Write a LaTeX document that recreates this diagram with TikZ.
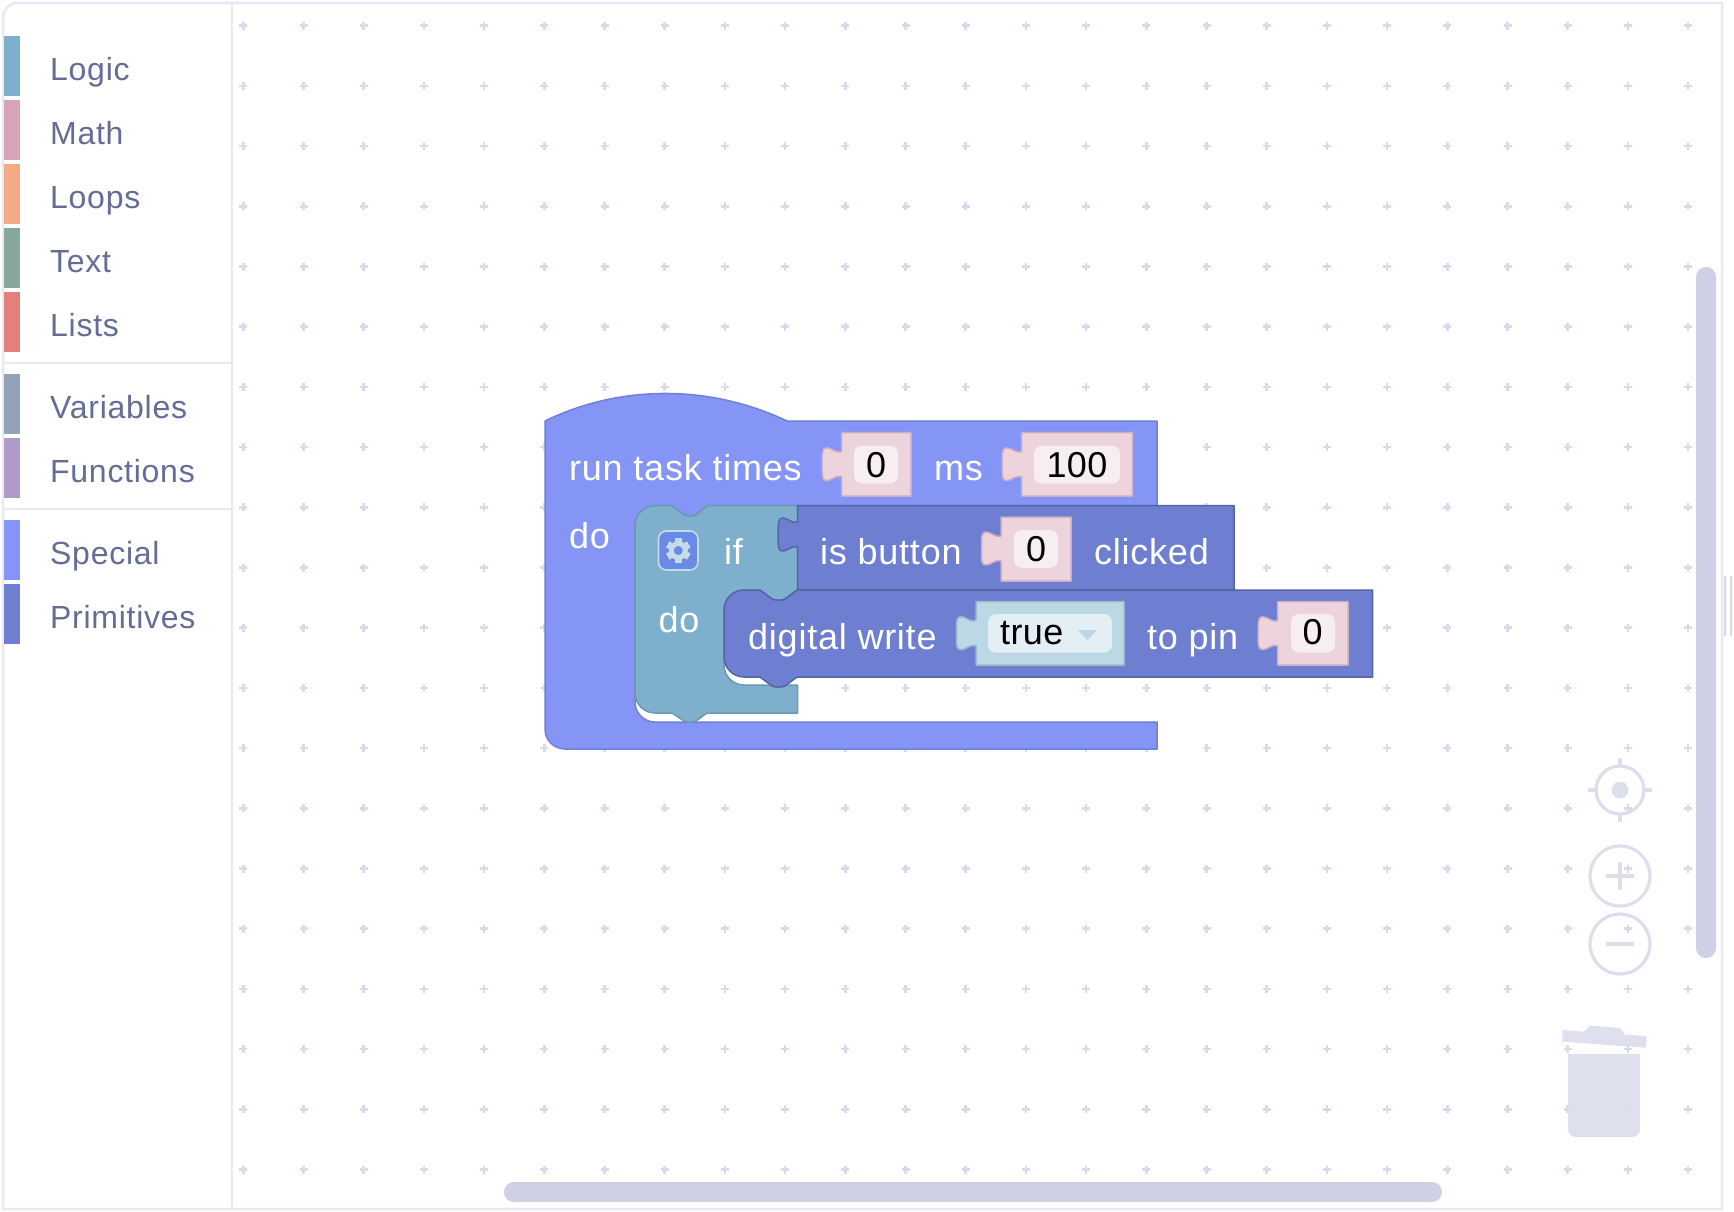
\documentclass[tikz,border=0pt]{standalone}
\usepackage{fontspec}
\setmainfont{Liberation Sans}
\newfontfamily\blockfont[LetterSpace=2.1]{Liberation Sans}
\newfontfamily\valuefont[LetterSpace=1]{Liberation Sans}
\newfontfamily\sidefont[LetterSpace=2.3]{Liberation Sans}
\definecolor{frameC}{HTML}{E9E9F3}
\definecolor{dotC}{HTML}{D9DAEA}
\definecolor{scrollC}{HTML}{CFD0E3}
\definecolor{ctrlC}{HTML}{DDDEEC}
\definecolor{sideText}{HTML}{636D95}
\definecolor{specialC}{HTML}{8595F6}
\definecolor{specialS}{HTML}{7080D8}
\definecolor{primC}{HTML}{6E7ED0}
\definecolor{primS}{HTML}{5464A8}
\definecolor{logicC}{HTML}{7EB0CE}
\definecolor{logicS}{HTML}{6A9AAF}
\definecolor{pinkC}{HTML}{EDD3DB}
\definecolor{pinkS}{HTML}{C9AEC4}
\definecolor{pinkF}{HTML}{F6EEF2}
\definecolor{blueC}{HTML}{BBD8E4}
\definecolor{blueS}{HTML}{9DB8CC}
\definecolor{blueF}{HTML}{E3EFF4}
\definecolor{gearBox}{HTML}{6A8AE8}
\definecolor{gearC}{HTML}{C5DCE8}
\definecolor{mathC}{HTML}{D9A3B8}
\definecolor{loopC}{HTML}{F2AB85}
\definecolor{textC}{HTML}{86A898}
\definecolor{listC}{HTML}{E57F7C}
\definecolor{varC}{HTML}{92A3B8}
\definecolor{funcC}{HTML}{AF9AC9}
\tikzset{
  x=1pt,y=-1pt,
  blocklabel/.style={anchor=base west,inner sep=0pt,text=white,font=\fontsize{36}{40}\selectfont\blockfont},
  valuetext/.style={anchor=base,inner sep=0pt,text=black,font=\fontsize{36}{40}\selectfont\valuefont},
  sidelabel/.style={anchor=base west,inner sep=0pt,text=sideText,font=\fontsize{32}{36}\selectfont\sidefont},
  blockline/.style={line width=1.5pt,line join=round},
  gridplus/.style={draw=dotC,line width=2.6pt},
  ctrlring/.style={draw=ctrlC,line width=3.2pt,fill=none},
  field/.style={rounded corners=8pt},
}
% tab outline drawn in the local frame of a block whose left side is x=0, tab starting at y=0
\newcommand{\tabpath}{-- (0,4) .. controls (-6,6) and (-10,0) .. (-15,0) .. controls (-20,0) and (-19.5,6) .. (-19.5,17) .. controls (-19.5,28) and (-20,33) .. (-15,33) .. controls (-10,33) and (-6,27) .. (0,29)}
% #1 left, #2 right, #3 top, #4 bottom, #5 fill, #6 stroke
\newcommand{\valblock}[6]{%
  \begin{scope}[shift={(#1,#3+15)}]
    \pgfmathsetmacro{\wd}{#2-#1}\pgfmathsetmacro{\hg}{#4-#3-15}
    \draw[blockline,fill=#5,draw=#6] (0,-15) \tabpath -- (0,\hg) -- (\wd,\hg) -- (\wd,-15) -- cycle;
  \end{scope}}
\begin{document}
\begin{tikzpicture}
\useasboundingbox (0,0) rectangle (1734,1212);
\fill[white] (0,0) rectangle (1734,1212);
% dotted grid
\foreach \i in {0,...,24}{\foreach \j in {0,...,19}{
  \pgfmathsetmacro{\px}{243.3+60.2*\i}\pgfmathsetmacro{\py}{25.7+60.2*\j}
  \draw[gridplus] (\px-4,\py) -- (\px+4,\py) (\px,\py-4) -- (\px,\py+4);
}}
% frame
\draw[frameC,line width=2.5pt] (1722,3) -- (18,3) arc[start angle=270,end angle=180,radius=15] -- (3,1209) -- (1722,1209) -- cycle;
\draw[frameC,line width=2pt] (232,3) -- (232,1209);
\draw[frameC,line width=2pt] (4,363) -- (232,363) (4,509) -- (232,509);
% toolbox colour bars
\fill[logicC] (4,36) rectangle (20,96);
\fill[mathC] (4,100) rectangle (20,160);
\fill[loopC] (4,164) rectangle (20,224);
\fill[textC] (4,228) rectangle (20,288);
\fill[listC] (4,292) rectangle (20,352);
\fill[varC] (4,374) rectangle (20,434);
\fill[funcC] (4,438) rectangle (20,498);
\fill[specialC] (4,520) rectangle (20,580);
\fill[primC] (4,584) rectangle (20,644);
\node[sidelabel] (tbLogic) at (50,81) {Logic};
\node[sidelabel] (tbMath) at (50,144) {Math};
\node[sidelabel] (tbLoops) at (50,208) {Loops};
\node[sidelabel] (tbText) at (50,272) {Text};
\node[sidelabel] (tbLists) at (50,336) {Lists};
\node[sidelabel] (tbVars) at (50,418) {Variables};
\node[sidelabel] (tbFuncs) at (50,482) {Functions};
\node[sidelabel] (tbSpecial) at (50,564) {Special};
\node[sidelabel] (tbPrims) at (50,628) {Primitives};
% scrollbars and grip
\fill[scrollC,rounded corners=9.9pt] (1696,267) rectangle (1716,958);
\fill[scrollC,rounded corners=9.9pt] (504,1182) rectangle (1442,1202);
\fill[black!14] (1724,576) rectangle (1726,636) (1730,576) rectangle (1732,636);
% workspace controls
\draw[ctrlring] (1620,790) circle[radius=24];
\fill[ctrlC] (1620,790) circle[radius=8.3];
\draw[ctrlC,line width=3.2pt] (1620,758) -- (1620,766) (1620,814) -- (1620,822) (1588,790) -- (1596,790) (1644,790) -- (1652,790);
\draw[ctrlring] (1620,876) circle[radius=30];
\draw[ctrlC,line width=3.2pt] (1606,876) -- (1634,876) (1620,862) -- (1620,890);
\draw[ctrlring] (1620,944) circle[radius=30];
\draw[ctrlC,line width=3.2pt] (1606,944) -- (1634,944);
\fill[ctrlC,opacity=.92] (1562.3,1030) -- (1584,1031.7) -- (1590,1025.7) -- (1620,1028) -- (1625,1034.7) -- (1646.6,1036) -- (1646,1047.7) -- (1562.3,1041.7) -- cycle;
\fill[ctrlC,opacity=.92] (1568,1054) -- (1640,1054) -- (1640,1129) arc[start angle=0,end angle=90,radius=8] -- (1576,1137) arc[start angle=90,end angle=180,radius=8] -- cycle;
% run task block
\draw[blockline,fill=specialC,draw=specialS] (545,421) .. controls (620,384.3) and (710,384.3) .. (787,421) -- (1157,421) -- (1157,505.7) -- (707,505.7) -- (696,515) .. controls (693,516.5) and (687,516.5) .. (684,515) -- (672,505.7) -- (655,505.7) arc[start angle=270,end angle=180,radius=20] -- (635,702) arc[start angle=180,end angle=90,radius=20] -- (1157,722) -- (1157,749) -- (565,749) arc[start angle=90,end angle=180,radius=20] -- cycle;
% if block
\draw[blockline,fill=logicC,draw=logicS] (655,505.7) -- (672,505.7) -- (684,515) .. controls (687,516.5) and (693,516.5) .. (696,515) -- (707,505.7) -- (797.7,505.7) -- (797.7,590) -- (797,590) -- (785,599) .. controls (782,600.5) and (775,600.5) .. (772,599) -- (760,590) -- (744,590) arc[start angle=270,end angle=180,radius=20] -- (724,665) arc[start angle=180,end angle=90,radius=20] -- (797.7,685) -- (797.7,713) -- (707,713) -- (696,721) .. controls (693,722.5) and (687,722.5) .. (684,721) -- (672,713) -- (655,713) arc[start angle=90,end angle=180,radius=20] -- (635,525.7) arc[start angle=180,end angle=270,radius=20] -- cycle;
% is button clicked block
\begin{scope}[shift={(797.7,518)}]
\draw[blockline,fill=primC,draw=primS] (0,-12.3) \tabpath -- (0,72) -- (436.3,72) -- (436.3,-12.3) -- cycle;
\end{scope}
% digital write block
\draw[blockline,fill=primC,draw=primS] (744,590) -- (760,590) -- (772,599) .. controls (775,600.5) and (782,600.5) .. (785,599) -- (797,590) -- (1372.7,590) -- (1372.7,677) -- (797,677) -- (785,686) .. controls (782,687.5) and (775,687.5) .. (772,686) -- (760,677) -- (744,677) arc[start angle=90,end angle=180,radius=20] -- (724,610) arc[start angle=180,end angle=270,radius=20] -- cycle;
% value blocks
\valblock{841.7}{911}{432.7}{496}{pinkC}{pinkS}
\fill[pinkF,field] (854,445.7) rectangle (898,483.7);
\valblock{1021.7}{1132.7}{432.7}{496}{pinkC}{pinkS}
\fill[pinkF,field] (1034,445.7) rectangle (1120,483.7);
\valblock{1001}{1071}{517}{581}{pinkC}{pinkS}
\fill[pinkF,field] (1014,530) rectangle (1058,568);
\valblock{976}{1124}{601.7}{665}{blueC}{blueS}
\fill[blueF,field] (988,614) rectangle (1112,652.7);
\fill[blueC] (1077.7,630) -- (1097,630) -- (1087.4,640) -- cycle;
\valblock{1277.7}{1348}{601.7}{665}{pinkC}{pinkS}
\fill[pinkF,field] (1291,614) rectangle (1335,652.7);
% gear button
\draw[fill=gearBox,draw=gearC,line width=1.6pt,rounded corners=8pt] (658.5,531) rectangle (698,570);
\fill[gearC] (678.3,550.5) circle[radius=9.5];
\foreach \a in {30,90,...,330}{\fill[gearC,rotate around={\a:(678.3,550.5)}] (686,547) rectangle (690.5,554);}
\fill[gearBox] (678.3,550.5) circle[radius=4.5];
% block labels
\node[blocklabel] (lblRun) at (569,480) {run task times};
\node[blocklabel] (lblMs) at (934,480) {ms};
\node[blocklabel] (lblDoOuter) at (569,548) {do};
\node[blocklabel] (lblIf) at (724,564) {if};
\node[blocklabel] (lblDoInner) at (658.5,632) {do};
\node[blocklabel] (lblIsButton) at (820,564) {is button};
\node[blocklabel] (lblClicked) at (1094,564) {clicked};
\node[blocklabel] (lblDigital) at (748,649) {digital write};
\node[blocklabel] (lblToPin) at (1147,649) {to pin};
% values
\node[valuetext] (valZeroA) at (876,477) {0};
\node[valuetext] (valHundred) at (1077,477) {100};
\node[valuetext] (valZeroB) at (1036,561) {0};
\node[valuetext,anchor=base west] (valTrue) at (1000,644) {true};
\node[valuetext] (valZeroC) at (1312.5,644) {0};
\end{tikzpicture}
\end{document}
